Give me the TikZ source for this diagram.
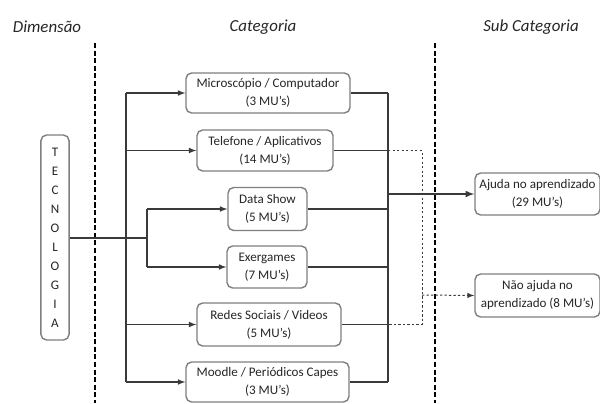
\documentclass[tikz,border=0pt]{standalone}
\usepackage{fontspec}
\setmainfont{Carlito}
\definecolor{linecol}{HTML}{3A3A3A}
\definecolor{boxcol}{HTML}{7F7F7F}
\definecolor{txtcol}{HTML}{262626}
\begin{document}
\begin{tikzpicture}[x=0.025cm, y=-0.025cm,
  box/.style={draw=boxcol, line width=1pt, rounded corners=4pt, fill=white, text=txtcol,
    align=center, inner sep=0pt, font=\fontsize{9.3}{12.8}\selectfont},
  conn/.style={draw=linecol, line width=0.8pt},
  dotconn/.style={draw=linecol, line width=0.7pt, dash pattern=on 1.6pt off 1.6pt},
  sep/.style={draw=black, line width=2pt, dash pattern=on 3.6pt off 1.8pt},
  head/.style={text=txtcol, font=\fontsize{12}{14}\selectfont\itshape}]
\useasboundingbox (0,0) rectangle (600,403);

% headers
\node[head] (hdim) at (47,27) {Dimensão};
\node[head] (hcat) at (263,27) {Categoria};
\node[head] (hsub) at (531,27) {Sub Categoria};

% separators
\draw[sep] (95,43) -- (95,403);
\draw[sep] (435,43) -- (435,403);

% boxes
\node[box, minimum width=20\pgflinewidth, text width=0.5cm, minimum height=205*0.025cm,
  font=\fontsize{9.3}{13.5}\selectfont] (tec) at (55,237.5)
  {T\\E\\C\\N\\O\\L\\O\\G\\I\\A};
\node[box, minimum width=164*0.025cm, minimum height=40*0.025cm] (micro) at (268,93)
  {Microscópio / Computador\\(3 MU’s)};
\node[box, minimum width=136*0.025cm, minimum height=41*0.025cm] (tele) at (265,150.5)
  {Telefone / Aplicativos\\(14 MU’s)};
\node[box, minimum width=79*0.025cm, minimum height=43*0.025cm] (data) at (267.5,209)
  {Data Show\\(5 MU’s)};
\node[box, minimum width=80*0.025cm, minimum height=42*0.025cm] (exer) at (267,267)
  {Exergames\\(7 MU’s)};
\node[box, minimum width=144*0.025cm, minimum height=43*0.025cm] (redes) at (269,324.5)
  {Redes Sociais / Videos\\(5 MU’s)};
\node[box, minimum width=163*0.025cm, minimum height=40*0.025cm] (moodle) at (267.5,382)
  {Moodle / Periódicos Capes\\(3 MU’s)};
\node[box, minimum width=125*0.025cm, minimum height=42*0.025cm] (ajuda) at (537.5,194)
  {Ajuda no aprendizado\\(29 MU’s)};
\node[box, minimum width=125*0.025cm, minimum height=43*0.025cm] (nao) at (537.5,295.5)
  {Não ajuda no\\aprendizado (8 MU’s)};

% junctions
\coordinate (jl) at (126,238);
\coordinate (jm) at (147,238);
\coordinate (jr) at (388,194);
\coordinate (jd) at (422,295);

% left side
\draw[conn, line width=1.1pt] (tec.east |- jl) -- (jm);
\draw[conn] (jl |- micro) -- (jl |- moodle);
\draw[conn] (jm |- data) -- (jm |- exer);
\foreach \n in {micro,tele,redes,moodle}
  \draw[conn,-latex] (jl |- \n) -- (\n.west);
\foreach \n in {data,exer}
  \draw[conn,-latex] (jm |- \n) -- (\n.west);

% right side
\foreach \n in {micro,tele,data,exer,redes,moodle}
  \draw[conn] (\n.east) -- (jr |- \n);
\draw[conn] (jr |- micro) -- (jr |- moodle);
\draw[conn, line width=1.1pt, -latex] (jr) -- (ajuda.west);
\draw[dotconn] (jr |- tele) -- (jd |- tele) -- (jd |- redes) -- (redes.east);
\draw[dotconn, -latex] (jd) -- (nao.west);
\end{tikzpicture}
\end{document}
